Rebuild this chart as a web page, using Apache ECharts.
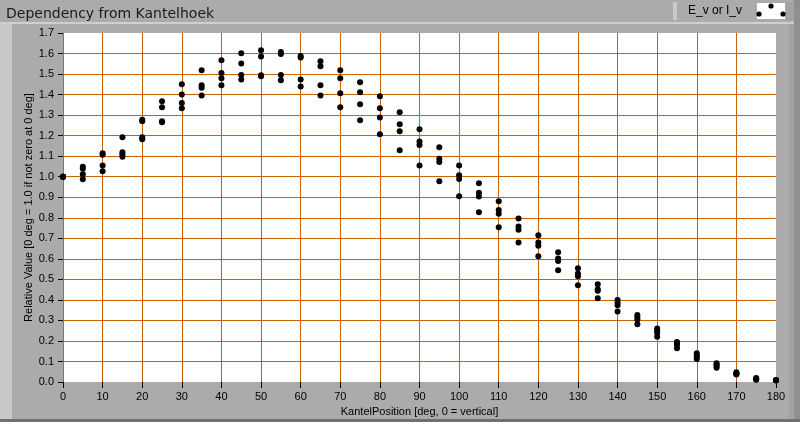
<!DOCTYPE html>
<html>
<head>
<meta charset="utf-8">
<title>Dependency from Kantelhoek</title>
<script src="https://cdn.jsdelivr.net/npm/echarts@6/dist/echarts.min.js"></script>
<style>
  html, body { margin: 0; padding: 0; background: #ababab; }
  #chart { width: 800px; height: 422px; }
</style>
</head>
<body>
<div id="chart"></div>
<script>
// angle of the lamp (deg)
const angles = [0, 5, 10, 15, 20, 25, 30, 35, 40, 45, 50, 55, 60, 65, 70, 75, 80, 85, 90,
  95, 100, 105, 110, 115, 120, 125, 130, 135, 140, 145, 150, 155, 160, 165, 170, 175, 180]

// four measurement runs, relative value per angle
const run1 = [1.00, 1.049, 1.114, 1.192, 1.278, 1.367, 1.450, 1.518, 1.567, 1.601, 1.616, 1.607, 1.588,
  1.563, 1.518, 1.460, 1.392, 1.314, 1.231, 1.143, 1.055, 0.968, 0.880, 0.797, 0.715, 0.632, 0.554,
  0.476, 0.399, 0.326, 0.260, 0.195, 0.140, 0.091, 0.047, 0.019, 0.008]
const run2 = [1.00, 1.039, 1.107, 1.119, 1.270, 1.338, 1.401, 1.445, 1.505, 1.552, 1.586, 1.598, 1.581,
  1.538, 1.479, 1.411, 1.333, 1.255, 1.171, 1.088, 1.007, 0.922, 0.838, 0.758, 0.680, 0.601, 0.528,
  0.452, 0.386, 0.317, 0.248, 0.188, 0.132, 0.084, 0.042, 0.016, 0.008]
const run3 = [1.00, 1.012, 1.055, 1.108, 1.192, 1.270, 1.359, 1.433, 1.479, 1.495, 1.494, 1.495, 1.474,
  1.445, 1.406, 1.353, 1.289, 1.221, 1.154, 1.072, 0.989, 0.903, 0.820, 0.742, 0.664, 0.589, 0.515,
  0.445, 0.374, 0.305, 0.240, 0.182, 0.123, 0.078, 0.040, 0.013, 0.008]
const run4 = [1.00, 0.987, 1.026, 1.097, 1.182, 1.265, 1.333, 1.396, 1.445, 1.474, 1.489, 1.470, 1.440,
  1.396, 1.338, 1.275, 1.207, 1.129, 1.055, 0.978, 0.905, 0.827, 0.754, 0.680, 0.612, 0.544, 0.471,
  0.408, 0.344, 0.281, 0.221, 0.164, 0.112, 0.070, 0.037, 0.011, 0.008]

const runs = [run1, run2, run3, run4]
const points = []
runs.forEach(run => {
  run.forEach((v, i) => points.push([angles[i], v]))
})

const font = 'Liberation Sans, Arial, sans-serif'
const gridColor = '#c96300'

const chart = echarts.init(document.getElementById('chart'))

const option = {
  backgroundColor: '#ababab',
  animation: false,
  title: {
    text: 'Dependency from Kantelhoek',
    left: 1,
    top: 2,
    textStyle: { fontFamily: 'DejaVu Sans, sans-serif', fontSize: 14, fontWeight: 'normal', color: '#1a1a1a' }
  },
  graphic: [
    // panel frame
    { type: 'rect', shape: { x: 0, y: 22, width: 800, height: 2 }, style: { fill: '#cfcfcf' }, z: -10 },
    { type: 'rect', shape: { x: 0, y: 24, width: 12, height: 396 }, style: { fill: '#c9c9c9' }, z: -10 },
    { type: 'rect', shape: { x: 789, y: 24, width: 5, height: 396 }, style: { fill: '#a2a2a2' }, z: -10 },
    { type: 'rect', shape: { x: 794, y: 0, width: 6, height: 422 }, style: { fill: '#8f8f8f' }, z: -10 },
    { type: 'rect', shape: { x: 0, y: 419, width: 800, height: 3 }, style: { fill: '#707070' }, z: -10 },
    // legend frame
    { type: 'rect', shape: { x: 673, y: 2, width: 4, height: 18 }, style: { fill: '#c9c9c9' }, z: -10 },
    { type: 'rect', shape: { x: 786, y: 2, width: 8, height: 18 }, style: { fill: '#a2a2a2' }, z: -10 },
    { type: 'rect', shape: { x: 757, y: 3, width: 28, height: 16 }, style: { fill: '#ffffff' }, z: 5 },
    {
      type: 'text', left: 688, top: 5, z: 10,
      style: { text: 'E_v or I_v', font: '12px ' + font, fill: '#000' }
    },
    // legend icon dots
    { type: 'circle', shape: { cx: 771, cy: 6, r: 2.6 }, style: { fill: '#000' }, z: 10 },
    { type: 'circle', shape: { cx: 759, cy: 14, r: 2.6 }, style: { fill: '#000' }, z: 10 },
    { type: 'circle', shape: { cx: 783, cy: 14, r: 2.6 }, style: { fill: '#000' }, z: 10 }
  ],
  grid: {
    left: 63,
    right: 24,
    top: 33,
    bottom: 37,
    show: true,
    backgroundColor: '#ffffff',
    borderWidth: 0
  },
  xAxis: {
    type: 'value',
    min: 0,
    max: 180,
    interval: 10,
    name: 'KantelPosition [deg, 0 = vertical]',
    nameLocation: 'middle',
    nameGap: 24,
    nameMoveOverlap: false,
    nameTextStyle: { fontFamily: font, fontSize: 11, color: '#000' },
    axisLine: { show: false },
    axisTick: { show: true, length: 6, lineStyle: { color: '#000' } },
    axisLabel: { fontFamily: font, fontSize: 11, color: '#000', margin: 9 },
    splitLine: { show: true, showMinLine: false, showMaxLine: false, lineStyle: { color: gridColor, width: 1 } }
  },
  yAxis: {
    type: 'value',
    min: 0,
    max: 1.7,
    interval: 0.1,
    name: 'Relative Value [0 deg = 1.0 if not zero at 0 deg]',
    nameLocation: 'middle',
    nameGap: 29,
    nameMoveOverlap: false,
    nameTextStyle: { fontFamily: font, fontSize: 11, color: '#000' },
    axisLine: { show: true, lineStyle: { color: '#777', width: 1 } },
    axisTick: { show: true, length: 5, lineStyle: { color: '#000' } },
    axisLabel: {
      fontFamily: font, fontSize: 11, color: '#000', margin: 9,
      formatter: v => v.toFixed(1)
    },
    splitLine: { show: true, showMinLine: false, showMaxLine: false, lineStyle: { color: gridColor, width: 1 } }
  },
  series: [
    {
      name: 'E_v or I_v',
      type: 'scatter',
      symbol: 'circle',
      symbolSize: 6,
      itemStyle: { color: '#000', opacity: 1 },
      data: points
    }
  ]
}

chart.setOption(option)
</script>
</body>
</html>
